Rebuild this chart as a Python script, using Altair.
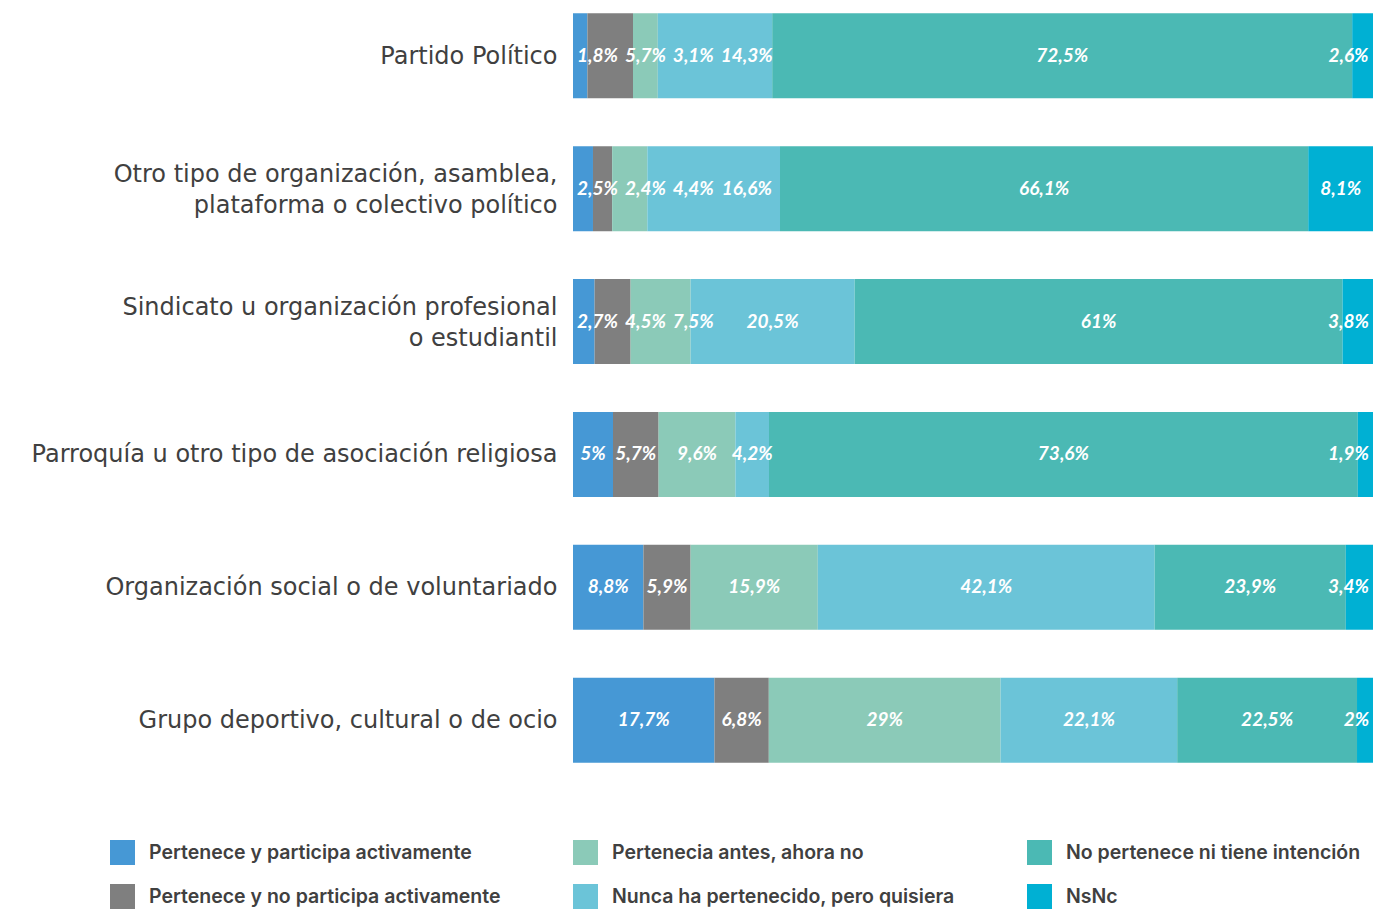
import altair as alt
import pandas as pd

categories = [
    "Partido Político",
    "Otro tipo de organización, asamblea,\nplataforma o colectivo político",
    "Sindicato u organización profesional\no estudiantil",
    "Parroquía u otro tipo de asociación religiosa",
    "Organización social o de voluntariado",
    "Grupo deportivo, cultural o de ocio",
]
series = [
    "Pertenece y participa activamente",
    "Pertenece y no participa activamente",
    "Pertenecia antes, ahora no",
    "Nunca ha pertenecido, pero quisiera",
    "No pertenece ni tiene intención",
    "NsNc",
]
colors = ["#4698d5", "#7f7f7f", "#8bcab8", "#6bc4d8", "#4bb9b4", "#00b0d3"]

participa_activa = [1.8, 2.5, 2.7, 5, 8.8, 17.7]
participa_no_activa = [5.7, 2.4, 4.5, 5.7, 5.9, 6.8]
pertenecia_antes = [3.1, 4.4, 7.5, 9.6, 15.9, 29]
nunca_quisiera = [14.3, 16.6, 20.5, 4.2, 42.1, 22.1]
no_intencion = [72.5, 66.1, 61, 73.6, 23.9, 22.5]
nsnc = [2.6, 8.1, 3.8, 1.9, 3.4, 2]

values = [participa_activa, participa_no_activa, pertenecia_antes,
          nunca_quisiera, no_intencion, nsnc]

PLOT_W = 800
PLOT_H = 760
LEFT = 565
LABEL_SIZE = 19


def fmt(v):
    s = ("%.1f" % v).rstrip("0").rstrip(".")
    return s.replace(".", ",") + "%"


def text_w(s):
    # rough width (px) of a bold italic label
    w = 0.0
    for ch in s:
        w += 0.25 if ch == "," else (0.85 if ch == "%" else 0.58)
    return w * LABEL_SIZE


# label anchors: centred in each segment, nudged apart where segments are too narrow
rows = []
for ci, c in enumerate(categories):
    vals = [values[si][ci] for si in range(len(series))]
    total = sum(vals)
    starts, acc = [], 0.0
    for v in vals:
        starts.append(acc / total)
        acc += v
    fr = [v / total for v in vals]
    labs = [fmt(v) for v in vals]
    ws = [text_w(t) / PLOT_W for t in labs]
    gap = 5 / PLOT_W
    edge = 3 / PLOT_W
    pos = [starts[i] + fr[i] / 2 for i in range(len(vals))]
    pos[0] = max(pos[0], ws[0] / 2 + edge)
    for i in range(1, len(vals)):
        pos[i] = max(pos[i], pos[i - 1] + (ws[i - 1] + ws[i]) / 2 + gap)
    pos[-1] = min(pos[-1], 1 - ws[-1] / 2 - edge)
    for i in range(len(vals) - 2, -1, -1):
        pos[i] = min(pos[i], pos[i + 1] - (ws[i] + ws[i + 1]) / 2 - gap)
    for si, s in enumerate(series):
        rows.append({"cat": c, "serie": s, "ord": si, "value": vals[si],
                     "lab": labs[si], "lx": pos[si]})
df = pd.DataFrame(rows)

base = alt.Chart(df).transform_stack(
    stack="value", groupby=["cat"], as_=["x0", "x1"],
    sort=[alt.SortField("ord", order="ascending")], offset="normalize",
)

y_enc = alt.Y(
    "cat:N", sort=categories,
    scale=alt.Scale(paddingInner=0.36, paddingOuter=0.04),
    axis=alt.Axis(
        title=None, domain=False, ticks=False,
        labelFont="DejaVu Sans", labelFontWeight=400, labelFontSize=24,
        labelColor="#404040", labelPadding=16, labelLimit=700,
        labelExpr="split(datum.label, '\\n')", labelLineHeight=31,
        labelOffset={"condition": {"test": "indexof(datum.value, '\\n') >= 0",
                                   "value": -14},
                     "value": 1},
    ),
)

xscale = alt.Scale(domain=[0, 1], nice=False, zero=True)

bars = base.mark_bar().encode(
    y=y_enc,
    x=alt.X("x0:Q", scale=xscale, axis=None),
    x2="x1:Q",
    color=alt.Color(
        "serie:N",
        scale=alt.Scale(domain=series, range=colors),
        legend=alt.Legend(
            title=None, orient="none", legendX=-463, legendY=832,
            columns=3, symbolType="square", symbolSize=625,
            symbolStrokeWidth=0, labelFont="Inter", labelFontWeight=600,
            labelFontSize=19.5, labelColor="#404040", labelLimit=500,
            columnPadding=72, rowPadding=19, labelOffset=14, padding=0,
        ),
    ),
)

labels = alt.Chart(df).mark_text(
    color="white", font="Lato", fontStyle="italic", fontWeight="bold",
    fontSize=LABEL_SIZE,
).encode(
    y=alt.Y("cat:N", sort=categories),
    x=alt.X("lx:Q", scale=xscale),
    text="lab:N",
)

chart = alt.layer(bars, labels).properties(
    width=PLOT_W, height=PLOT_H,
    autosize=alt.AutoSizeParams(type="none"),
    padding={"left": LEFT, "top": 0, "right": 0, "bottom": 144},
).configure_view(stroke=None)

chart.save("out.html", embed_options={"renderer": "svg", "actions": False})
